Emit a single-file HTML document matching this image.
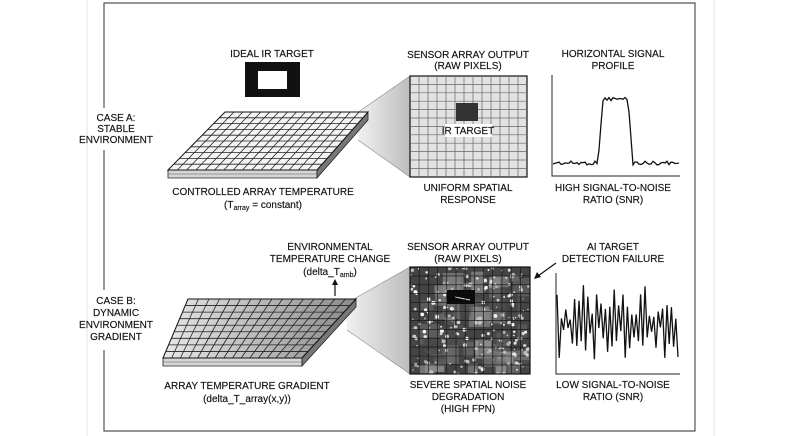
<!DOCTYPE html>
<html><head><meta charset="utf-8"><style>
html,body{margin:0;padding:0;background:#fff;}
svg{display:block;}
text{font-family:"Liberation Sans",sans-serif;font-size:10px;fill:#111;text-anchor:middle;stroke:#111;stroke-width:0.15px;}
</style></head><body>
<svg id="s" width="800" height="436" viewBox="0 0 800 436" xmlns="http://www.w3.org/2000/svg">
<defs>
<linearGradient id="fun" x1="0" x2="1"><stop offset="0" stop-color="#f2f2f2"/><stop offset="1" stop-color="#bdbdbd"/></linearGradient>
<linearGradient id="gB" x1="0" x2="1"><stop offset="0" stop-color="#e8e8e8"/><stop offset="1" stop-color="#8a8a8a"/></linearGradient>
<clipPath id="cb"><rect x="410" y="267" width="120" height="107"/></clipPath>
</defs>
<rect width="800" height="436" fill="#fff"/>
<line x1="87" y1="0" x2="87" y2="436" stroke="#e4e4e4"/>
<line x1="714" y1="0" x2="714" y2="436" stroke="#e4e4e4"/>
<polyline points="104,108 104,3 695,3 695,431 104,431 104,350" fill="none" stroke="#555" stroke-width="1.2"/>
<line x1="104" y1="150" x2="104" y2="290" stroke="#555" stroke-width="1.2"/>

<text x="116" y="121">CASE A:</text><text x="116" y="132">STABLE</text><text x="116" y="143">ENVIRONMENT</text>
<text x="116" y="304">CASE B:</text><text x="116" y="316">DYNAMIC</text><text x="116" y="328">ENVIRONMENT</text><text x="116" y="340">GRADIENT</text>

<text x="272" y="57">IDEAL IR TARGET</text>
<rect x="245" y="62" width="55" height="35" fill="#111"/>
<rect x="258" y="71" width="29" height="18" fill="#fff"/>

<polygon points="357,113 410,76 410,177 358,140" fill="url(#fun)"/>
<line x1="357" y1="113" x2="410" y2="76" stroke="#888" stroke-width=".6"/>
<line x1="358" y1="140" x2="410" y2="177" stroke="#888" stroke-width=".6"/>
<g id="arrA"></g>

<text x="263" y="195">CONTROLLED ARRAY TEMPERATURE</text>
<text x="263" y="208">(T<tspan font-size="7" dy="2">array</tspan><tspan dy="-2"> = constant)</tspan></text>

<rect x="410" y="76" width="117" height="101" fill="#e2e2e2" stroke="#111" stroke-width="1.2"/>
<g id="gridA"></g>
<rect x="456" y="103" width="22" height="18" fill="#333"/>
<rect x="445" y="124" width="47" height="13" fill="#fff"/>
<text x="468" y="134">IR TARGET</text>
<text x="468" y="58">SENSOR ARRAY OUTPUT</text><text x="468" y="69">(RAW PIXELS)</text>
<text x="468" y="191">UNIFORM SPATIAL</text><text x="468" y="203">RESPONSE</text>

<polyline points="552,75 552,176 680,176" fill="none" stroke="#222" stroke-width="1"/>
<polyline id="pA" fill="none" stroke="#111" stroke-width="1.3" points=""/>
<text x="613" y="57">HORIZONTAL SIGNAL</text><text x="613" y="69">PROFILE</text>
<text x="613" y="191">HIGH SIGNAL-TO-NOISE</text><text x="613" y="203">RATIO (SNR)</text>

<text x="330" y="250">ENVIRONMENTAL</text><text x="330" y="262">TEMPERATURE CHANGE</text>
<text x="330" y="275">(delta_T<tspan font-size="7" dy="2">amb</tspan><tspan dy="-2">)</tspan></text>
<line x1="335" y1="296" x2="335" y2="283" stroke="#111" stroke-width="1.2"/>
<polygon points="335,279 332,285 338,285" fill="#111"/>

<polygon points="345,304 410,267 410,374 347,330" fill="url(#fun)"/>
<line x1="345" y1="304" x2="410" y2="267" stroke="#888" stroke-width=".6"/>
<line x1="347" y1="330" x2="410" y2="374" stroke="#888" stroke-width=".6"/>
<g id="arrB"></g>
<text x="247" y="389">ARRAY TEMPERATURE GRADIENT</text>
<text x="247" y="402">(delta_T_array(x,y))</text>

<rect x="410" y="267" width="120" height="107" fill="#444"/>
<g id="noise" clip-path="url(#cb)"></g>
<rect x="410" y="267" width="120" height="107" fill="none" stroke="#111" stroke-width="1.2"/>
<text x="468" y="250">SENSOR ARRAY OUTPUT</text><text x="468" y="262">(RAW PIXELS)</text>
<text x="468" y="388">SEVERE SPATIAL NOISE</text><text x="468" y="400">DEGRADATION</text><text x="468" y="412">(HIGH FPN)</text>

<text x="613" y="250">AI TARGET</text><text x="613" y="262">DETECTION FAILURE</text>
<line x1="556" y1="263" x2="538" y2="276" stroke="#111" stroke-width="1.2"/>
<polygon points="534,279 537,272 541,277" fill="#111"/>
<polyline points="556,273 556,374 680,374" fill="none" stroke="#222" stroke-width="1"/>
<polyline id="pB" fill="none" stroke="#111" stroke-width="1.3" points=""/>
<text x="613" y="388">LOW SIGNAL-TO-NOISE</text><text x="613" y="400">RATIO (SNR)</text>
</svg>
<script>
var NS="http://www.w3.org/2000/svg";
function el(p,t,a){var e=document.createElementNS(NS,t);for(var k in a)e.setAttribute(k,a[k]);p.appendChild(e);return e;}
var sd=1;function r(){var x=Math.sin(sd++*12.9898+78.233)*43758.5453;return x-Math.floor(x);}
function array(g,bl,br,fl,fr,th,fill,rows,cols){
 el(g,"polygon",{points:[fl,fr,[fr[0],fr[1]+th],[fl[0],fl[1]+th]].join(" "),fill:"#d6d6d6",stroke:"#222","stroke-width":".8"});
 el(g,"line",{x1:fl[0],y1:fl[1]+th/2,x2:fr[0],y2:fr[1]+th/2,stroke:"#555","stroke-width":".6"});
 el(g,"polygon",{points:[br,fr,[fr[0],fr[1]+th],[br[0],br[1]+th]].join(" "),fill:"#777",stroke:"#222","stroke-width":".8"});
 el(g,"polygon",{points:[bl,br,fr,fl].join(" "),fill:fill,stroke:"#111","stroke-width":"1"});
 for(var i=1;i<cols;i++){var t=i/cols;el(g,"line",{x1:bl[0]+(br[0]-bl[0])*t,y1:bl[1],x2:fl[0]+(fr[0]-fl[0])*t,y2:fl[1],stroke:"#222","stroke-width":".8"});}
 for(var j=1;j<rows;j++){var t=j/rows;el(g,"line",{x1:bl[0]+(fl[0]-bl[0])*t,y1:bl[1]+(fl[1]-bl[1])*t,x2:br[0]+(fr[0]-br[0])*t,y2:br[1]+(fr[1]-br[1])*t,stroke:"#222","stroke-width":".8"});}
}
array(document.getElementById("arrA"),[225,112],[368,112],[168,170],[317,170],8,"#f4f4f4",10,16);
array(document.getElementById("arrB"),[188,299],[356,299],[163,358],[302,358],8,"url(#gB)",9,16);
var gA=document.getElementById("gridA");
for(var i=1;i<13;i++)el(gA,"line",{x1:410+i*9,y1:76,x2:410+i*9,y2:177,stroke:"#666","stroke-width":".7"});
for(var j=1;j<12;j++)el(gA,"line",{x1:410,y1:76+j*8.4,x2:527,y2:76+j*8.4,stroke:"#666","stroke-width":".7"});
var p=[];for(var x=553;x<=679;x+=2){var y;if(x<598)y=163+r()*4-2;else if(x<603)y=163-(x-598)*13;else if(x<628)y=99+r()*4-2;else if(x<633)y=99+(x-628)*13;else y=163+r()*4-2;p.push(x+","+y.toFixed(1));}
document.getElementById("pA").setAttribute("points",p.join(" "));
p=[];var up=true;for(var x=557;x<=679;x+=2.2){var v=up?(285+r()*35):(325+r()*35);up=!up;p.push(x.toFixed(1)+","+v.toFixed(1));}
document.getElementById("pB").setAttribute("points",p.join(" "));
var n=document.getElementById("noise");
for(var i=0;i<60;i++){var c=Math.floor(50+r()*120);el(n,"rect",{x:410+r()*110,y:267+r()*100,width:6+r()*18,height:6+r()*16,fill:"rgb("+c+","+c+","+c+")",opacity:.7});}
for(var i=0;i<220;i++){var c=Math.floor(170+r()*85);el(n,"circle",{cx:410+r()*120,cy:267+r()*107,r:.6+r()*1.5,fill:"rgb("+c+","+c+","+c+")"});}
el(n,"rect",{x:447,y:290,width:28,height:14,fill:"#0a0a0a"});
el(n,"line",{x1:455,y1:297,x2:470,y2:300,stroke:"#ddd","stroke-width":"1"});
for(var i=1;i<13;i++)el(n,"line",{x1:410+i*9.2,y1:267,x2:410+i*9.2,y2:374,stroke:"#111","stroke-width":".6"});
for(var j=1;j<12;j++)el(n,"line",{x1:410,y1:267+j*8.9,x2:530,y2:267+j*8.9,stroke:"#111","stroke-width":".6"});
</script>
</body></html>
